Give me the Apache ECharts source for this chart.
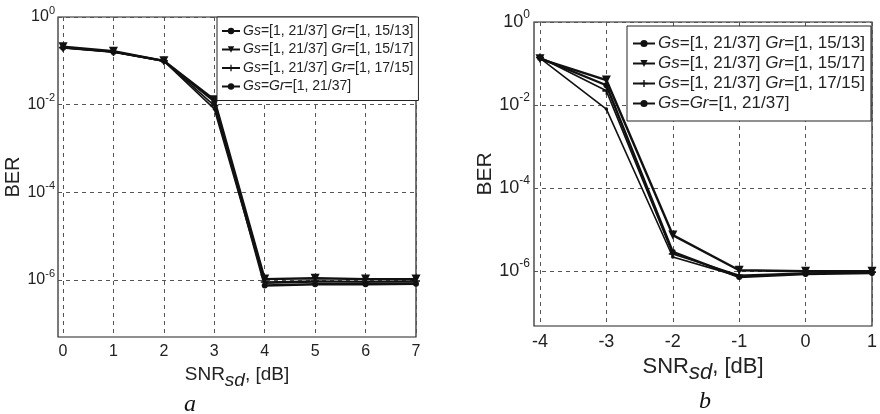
<!DOCTYPE html>
<html>
<head>
<meta charset="utf-8">
<script src="https://cdn.jsdelivr.net/npm/echarts@6/dist/echarts.min.js"></script>
<style>html,body{margin:0;padding:0;background:#fff;}#c{width:880px;height:414px;}</style>
</head>
<body>
<div id="c"></div>
<script>
// ---------- data ----------
const legendLabels = [
  '{i|Gs}=[1, 21/37] {i|Gr}=[1, 15/13]',
  '{i|Gs}=[1, 21/37] {i|Gr}=[1, 15/17]',
  '{i|Gs}=[1, 21/37] {i|Gr}=[1, 17/15]',
  '{i|Gs}={i|Gr}=[1, 21/37]'
];
// panel a
const snrA = [0, 1, 2, 3, 4, 5, 6, 7];
const berA1 = [0.20, 0.16, 0.10, 0.012, 7.5e-7, 8.0e-7, 8.0e-7, 8.2e-7];
const berA2 = [0.21, 0.165, 0.10, 0.013, 1.05e-6, 1.1e-6, 1.05e-6, 1.05e-6];
const berA3 = [0.20, 0.16, 0.10, 0.0095, 9.0e-7, 9.5e-7, 9.2e-7, 9.5e-7];
const berA4 = [0.20, 0.16, 0.098, 0.008, 8.5e-7, 9.0e-7, 9.0e-7, 9.0e-7];
// panel b
const snrB = [-4, -3, -2, -1, 0, 1];
const berB1 = [0.135, 0.030, 2.9e-6, 7.2e-7, 8.5e-7, 9.0e-7];
const berB2 = [0.130, 0.040, 7.4e-6, 1.05e-6, 1.0e-6, 1.0e-6];
const berB3 = [0.140, 0.022, 2.6e-6, 8.0e-7, 9.0e-7, 9.5e-7];
const berB4 = [0.135, 0.008, 2.2e-6, 7.5e-7, 8.8e-7, 9.2e-7];
// ticks
const xTicksA = [0, 1, 2, 3, 4, 5, 6, 7];
const xTicksB = [-4, -3, -2, -1, 0, 1];
const yDecades = [-6, -4, -2, 0];

// ---------- helpers ----------
const FONT = '"Liberation Sans", Arial, sans-serif';
const INK = '#111';
const pts = (xs, ys) => xs.map((x, i) => [x, Math.log10(ys[i])]);
const plusPath = 'path://M4,0H6V4H10V6H6V10H4V6H0V4H4Z';

function xAxis(gi, min, max, ticks, fs, margin, nameFs, nameGap) {
  return {
    gridIndex: gi, type: 'value', min: min, max: max,
    axisLine: {show: false},
    axisTick: {show: false, customValues: ticks},
    axisLabel: {customValues: ticks, color: '#222', fontFamily: FONT, fontSize: fs, margin: margin},
    splitLine: {show: true, lineStyle: {color: '#555', type: [4, 4], width: 1}},
    name: 'SNR{sub|sd}, [dB]', nameLocation: 'middle', nameGap: nameGap,
    nameTextStyle: {color: '#222', fontFamily: FONT, fontSize: nameFs,
      rich: {sub: {fontStyle: 'italic', fontFamily: FONT, fontSize: nameFs, color: '#222', padding: [12, 0, 0, 0]}}}
  };
}
function yAxis(gi, min, fs, sfs, margin, nameFs, nameGap) {
  return {
    gridIndex: gi, type: 'value', min: min, max: 0,
    axisLine: {show: false},
    axisTick: {show: false, customValues: yDecades},
    axisLabel: {customValues: yDecades, margin: margin,
      formatter: v => '{b|10}{s|' + v + '}',
      rich: {b: {fontSize: fs, fontFamily: FONT, color: '#222'},
             s: {fontSize: sfs, fontFamily: FONT, color: '#222', padding: [0, 0, Math.round(fs * 0.8), 0]}}},
    splitLine: {show: true, lineStyle: {color: '#555', type: [4, 4], width: 1}},
    name: 'BER', nameLocation: 'middle', nameGap: nameGap, nameRotate: 90,
    nameTextStyle: {color: '#222', fontFamily: FONT, fontSize: nameFs}
  };
}
function ser(name, gi, xs, ys, kind) {
  const s = {
    name: name, type: 'line', xAxisIndex: gi, yAxisIndex: gi,
    data: pts(xs, ys), color: INK, showSymbol: true, animation: false,
    lineStyle: {color: INK, width: 2}, itemStyle: {color: INK}
  };
  if (kind === 0) { s.symbol = 'circle'; s.symbolSize = 6; s.lineStyle.width = 2.4; }
  if (kind === 1) { s.symbol = 'triangle'; s.symbolRotate = 180; s.symbolSize = 9; s.lineStyle.width = 2.4; }
  if (kind === 2) { s.symbol = plusPath; s.symbolSize = 8; s.lineStyle.width = 1.6; }
  if (kind === 3) { s.symbol = 'circle'; s.symbolSize = 3.5; s.lineStyle.width = 1.6; }
  return s;
}
const namesA = ['a1', 'a2', 'a3', 'a4'];
const namesB = ['b1', 'b2', 'b3', 'b4'];
const labelOf = n => legendLabels[parseInt(n.slice(1), 10) - 1];

function legend(names, left, top, fs, itemW, itemH, gap, pad) {
  return {
    orient: 'vertical', left: left, top: top, data: names,
    backgroundColor: '#fff', borderColor: '#222', borderWidth: 1,
    padding: pad, itemGap: gap, itemWidth: itemW, itemHeight: itemH,
    selectedMode: false,
    formatter: labelOf,
    textStyle: {color: '#222', fontFamily: FONT, fontSize: fs, lineHeight: fs, padding: [0, 0, 0, -2],
      rich: {i: {fontStyle: 'italic', fontFamily: FONT, fontSize: fs, color: '#222'}}}
  };
}

const chart = echarts.init(document.getElementById('c'), null, {renderer: 'canvas'});
chart.setOption({
  backgroundColor: '#fff',
  animation: false,
  grid: [
    {left: 58, top: 17, width: 358, height: 320, show: true, borderColor: '#222', borderWidth: 1.2, backgroundColor: 'transparent'},
    {left: 534, top: 22, width: 343, height: 304, show: true, borderColor: '#222', borderWidth: 1.2, backgroundColor: 'transparent'}
  ],
  xAxis: [
    xAxis(0, -0.1, 7, xTicksA, 16, 7, 19, 21),
    xAxis(1, -4.09, 1, xTicksB, 18, 7, 22, 22)
  ],
  yAxis: [
    yAxis(0, -7.3, 16, 11, 3, 20, 33),
    yAxis(1, -7.32, 18, 12, 4, 21, 38)
  ],
  legend: [
    legend(namesA, 217, 17, 14, 18, 8, 4.5, [7, 5, 7, 4]),
    legend(namesB, 627, 26, 17, 22, 9, 3, [9, 6, 9, 5])
  ],
  series: [
    ser('a1', 0, snrA, berA1, 0),
    ser('a2', 0, snrA, berA2, 1),
    ser('a3', 0, snrA, berA3, 2),
    ser('a4', 0, snrA, berA4, 3),
    ser('b1', 1, snrB, berB1, 0),
    ser('b2', 1, snrB, berB2, 1),
    ser('b3', 1, snrB, berB3, 2),
    ser('b4', 1, snrB, berB4, 3)
  ],
  graphic: [
    {type: 'text', left: 184, top: 393, style: {text: 'a', font: 'italic 24px "Liberation Serif", "Times New Roman", serif', fill: '#111'}},
    {type: 'text', left: 699, top: 390, style: {text: 'b', font: 'italic 24px "Liberation Serif", "Times New Roman", serif', fill: '#111'}}
  ]
});
</script>
</body>
</html>
